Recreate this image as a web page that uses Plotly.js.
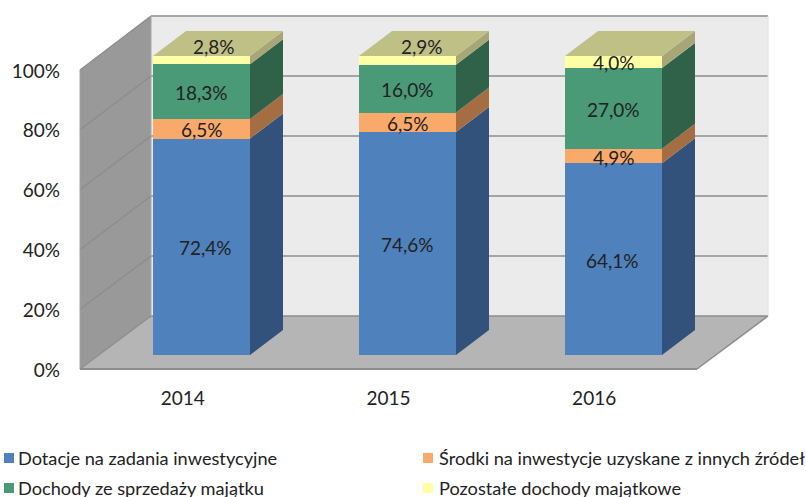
<!DOCTYPE html>
<html><head><meta charset="utf-8">
<script src="https://cdn.plot.ly/plotly-3.0.1.min.js"></script>
<style>html,body{margin:0;padding:0;background:#fff}#c{width:806px;height:497px}</style>
</head><body><div id="c"></div>
<script>
const categories = ['2014','2015','2016'];
const seriesNames = ['Dotacje na zadania inwestycyjne','Środki na inwestycje uzyskane z innych źródeł','Dochody ze sprzedaży majątku','Pozostałe dochody majątkowe'];
const dotacje = [72.4,74.6,64.1];
const srodki = [6.5,6.5,4.9];
const sprzedaz = [18.3,16.0,27.0];
const pozostale = [2.8,2.9,4.0];
const tickVals = [0,20,40,60,80,100];
const frontColors = ['#4F81BD','#F9A96A','#4A9A78','#FFFFA6'];
const sideColors = ['#32527C','#A56E42','#2F6249','#A6A677'];
const topColor = '#BFC086';
const W=806,H=497;
const allSeries=[dotacje,srodki,sprzedaz,pozostale];

// Stage scale: whole canvas, with the bar plane
const barX0=201.5, unitX=206, barY0=355, unitY=2.99;
const xRange=[-barX0/unitX,(W-barX0)/unitX];
const yRange=[(barY0-H)/unitY,barY0/unitY];
const barWidth=97/unitX, depthX=33/unitX, depthY=25/unitY;
const font='Lato, sans-serif', fs=19, txt='#222222';

const traces=[];
const cum=categories.map(()=>0);
const annotations=[];
const labelShift=[[4,0,-1],[0,0,0],[0,0,0],[12,14,0]];
const labelRise=[[-1,-1,-1],[-1,-1,-1],[-1,-1,-1],[14,14,-1]];
allSeries.forEach((vals,s)=>{
  const sx=[],sy=[];
  vals.forEach((v,i)=>{
    const a=cum[i],b=a+v,xe=i+barWidth/2;
    sx.push(xe,xe+depthX,xe+depthX,xe,xe,null);
    sy.push(a,a+depthY,b+depthY,b,a,null);
    annotations.push({x:i,y:a+v/2,xref:'x',yref:'y',text:v.toFixed(1).replace('.',',')+'%',showarrow:false,
      xshift:labelShift[s][i],yshift:labelRise[s][i],font:{family:font,size:fs,color:txt},xanchor:'center',yanchor:'middle'});
    cum[i]=b;
  });
  traces.push({type:'bar',x:[0,1,2],y:vals,width:barWidth,name:seriesNames[s],marker:{color:frontColors[s],line:{width:0}},hoverinfo:'skip',showlegend:false,xaxis:'x',yaxis:'y'});
  traces.push({type:'scatter',mode:'lines',x:sx,y:sy,fill:'toself',fillcolor:sideColors[s],line:{width:0,color:sideColors[s]},hoverinfo:'skip',showlegend:false,xaxis:'x',yaxis:'y'});
});
// top faces
const tx=[],ty=[];
cum.forEach((t,i)=>{
  const l=i-barWidth/2,r=i+barWidth/2;
  tx.push(l,r,r+depthX,l+depthX,l,null);
  ty.push(t,t,t+depthY,t+depthY,t,null);
});
traces.push({type:'scatter',mode:'lines',x:tx,y:ty,fill:'toself',fillcolor:topColor,line:{width:0,color:topColor},hoverinfo:'skip',showlegend:false,xaxis:'x',yaxis:'y'});
// front-plane axes carrier
traces.push({type:'scatter',mode:'markers',x:categories,y:[0,0,0],marker:{opacity:0,size:1},hoverinfo:'skip',showlegend:false,xaxis:'x2',yaxis:'y2'});

// walls
const px=x=>x/W, py=y=>1-y/H;
const poly=(pts,fill,line)=>({type:'path',xref:'paper',yref:'paper',layer:'below',
  path:'M'+pts.map(p=>px(p[0])+','+py(p[1])).join('L')+'Z',fillcolor:fill,line:line||{width:0}});
const seg=(x0,y0,x1,y1,c,w)=>({type:'line',xref:'paper',yref:'paper',layer:'below',x0:px(x0),y0:py(y0),x1:px(x1),y1:py(y1),line:{color:c,width:w}});
const shapes=[
  poly([[151,16],[768,16],[768,316],[151,316]],'#EBEBEB'),
  poly([[80,70],[151,16],[151,316],[80,369]],'#999999'),
  poly([[80,369],[151,316],[768,316],[697,369]],'#B5B5B5'),
];
tickVals.forEach(t=>{
  const yb=316-3*t, yf=369-2.99*t;
  shapes.push(seg(151,yb,768,yb,'#8C8C8C',1.6));
  shapes.push(seg(80,yf,151,yb,'#8C8C8C',1.2));
});
shapes.push(seg(80,70,80,369,'#A0A0A0',1));
shapes.push(seg(151,16,151,316,'#A8A8A8',1));
shapes.push(seg(768,16,768,316,'#E0E0E0',1));
shapes.push(seg(80,369,697,369,'#8C8C8C',2));
shapes.push(seg(697,369,768,316,'#8C8C8C',1.5));

// legend
const legendPos=[[4,458],[423,458],[4,488],[423,488]];
seriesNames.forEach((n,s)=>{
  const [x,y]=legendPos[s];
  shapes.push({type:'rect',xref:'paper',yref:'paper',x0:px(x),x1:px(x+10),y0:py(y+5),y1:py(y-5),fillcolor:frontColors[s],line:{width:0}});
  annotations.push({xref:'paper',yref:'paper',x:px(x+(s%2?14:12)),y:py(y),text:n,showarrow:false,xanchor:'left',yanchor:'middle',font:{family:font,size:18.2,color:txt}});
});

const layout={width:W,height:H,margin:{l:0,r:0,t:0,b:0},autosize:false,showlegend:false,barmode:'stack',
  paper_bgcolor:'#fff',plot_bgcolor:'rgba(0,0,0,0)',
  xaxis:{type:'linear',domain:[0,1],range:xRange,visible:false,fixedrange:true},
  yaxis:{type:'linear',domain:[0,1],range:yRange,visible:false,fixedrange:true},
  xaxis2:{type:'category',categoryorder:'array',categoryarray:categories,domain:[px(80),px(697)],range:[-0.5,2.5],anchor:'y2',showgrid:false,zeroline:false,showline:false,ticks:'',ticklabelstandoff:15,tickfont:{family:font,size:fs,color:txt},fixedrange:true},
  yaxis2:{type:'linear',domain:[py(370),py(71)],range:[0,100],anchor:'x2',tickvals:tickVals,ticktext:tickVals.map(t=>t+'%'),showgrid:false,zeroline:false,showline:false,ticks:'',ticklabelstandoff:19,tickfont:{family:font,size:fs,color:txt},fixedrange:true},
  shapes,annotations};
Plotly.newPlot('c',traces,layout,{displayModeBar:false,staticPlot:true});
</script></body></html>
